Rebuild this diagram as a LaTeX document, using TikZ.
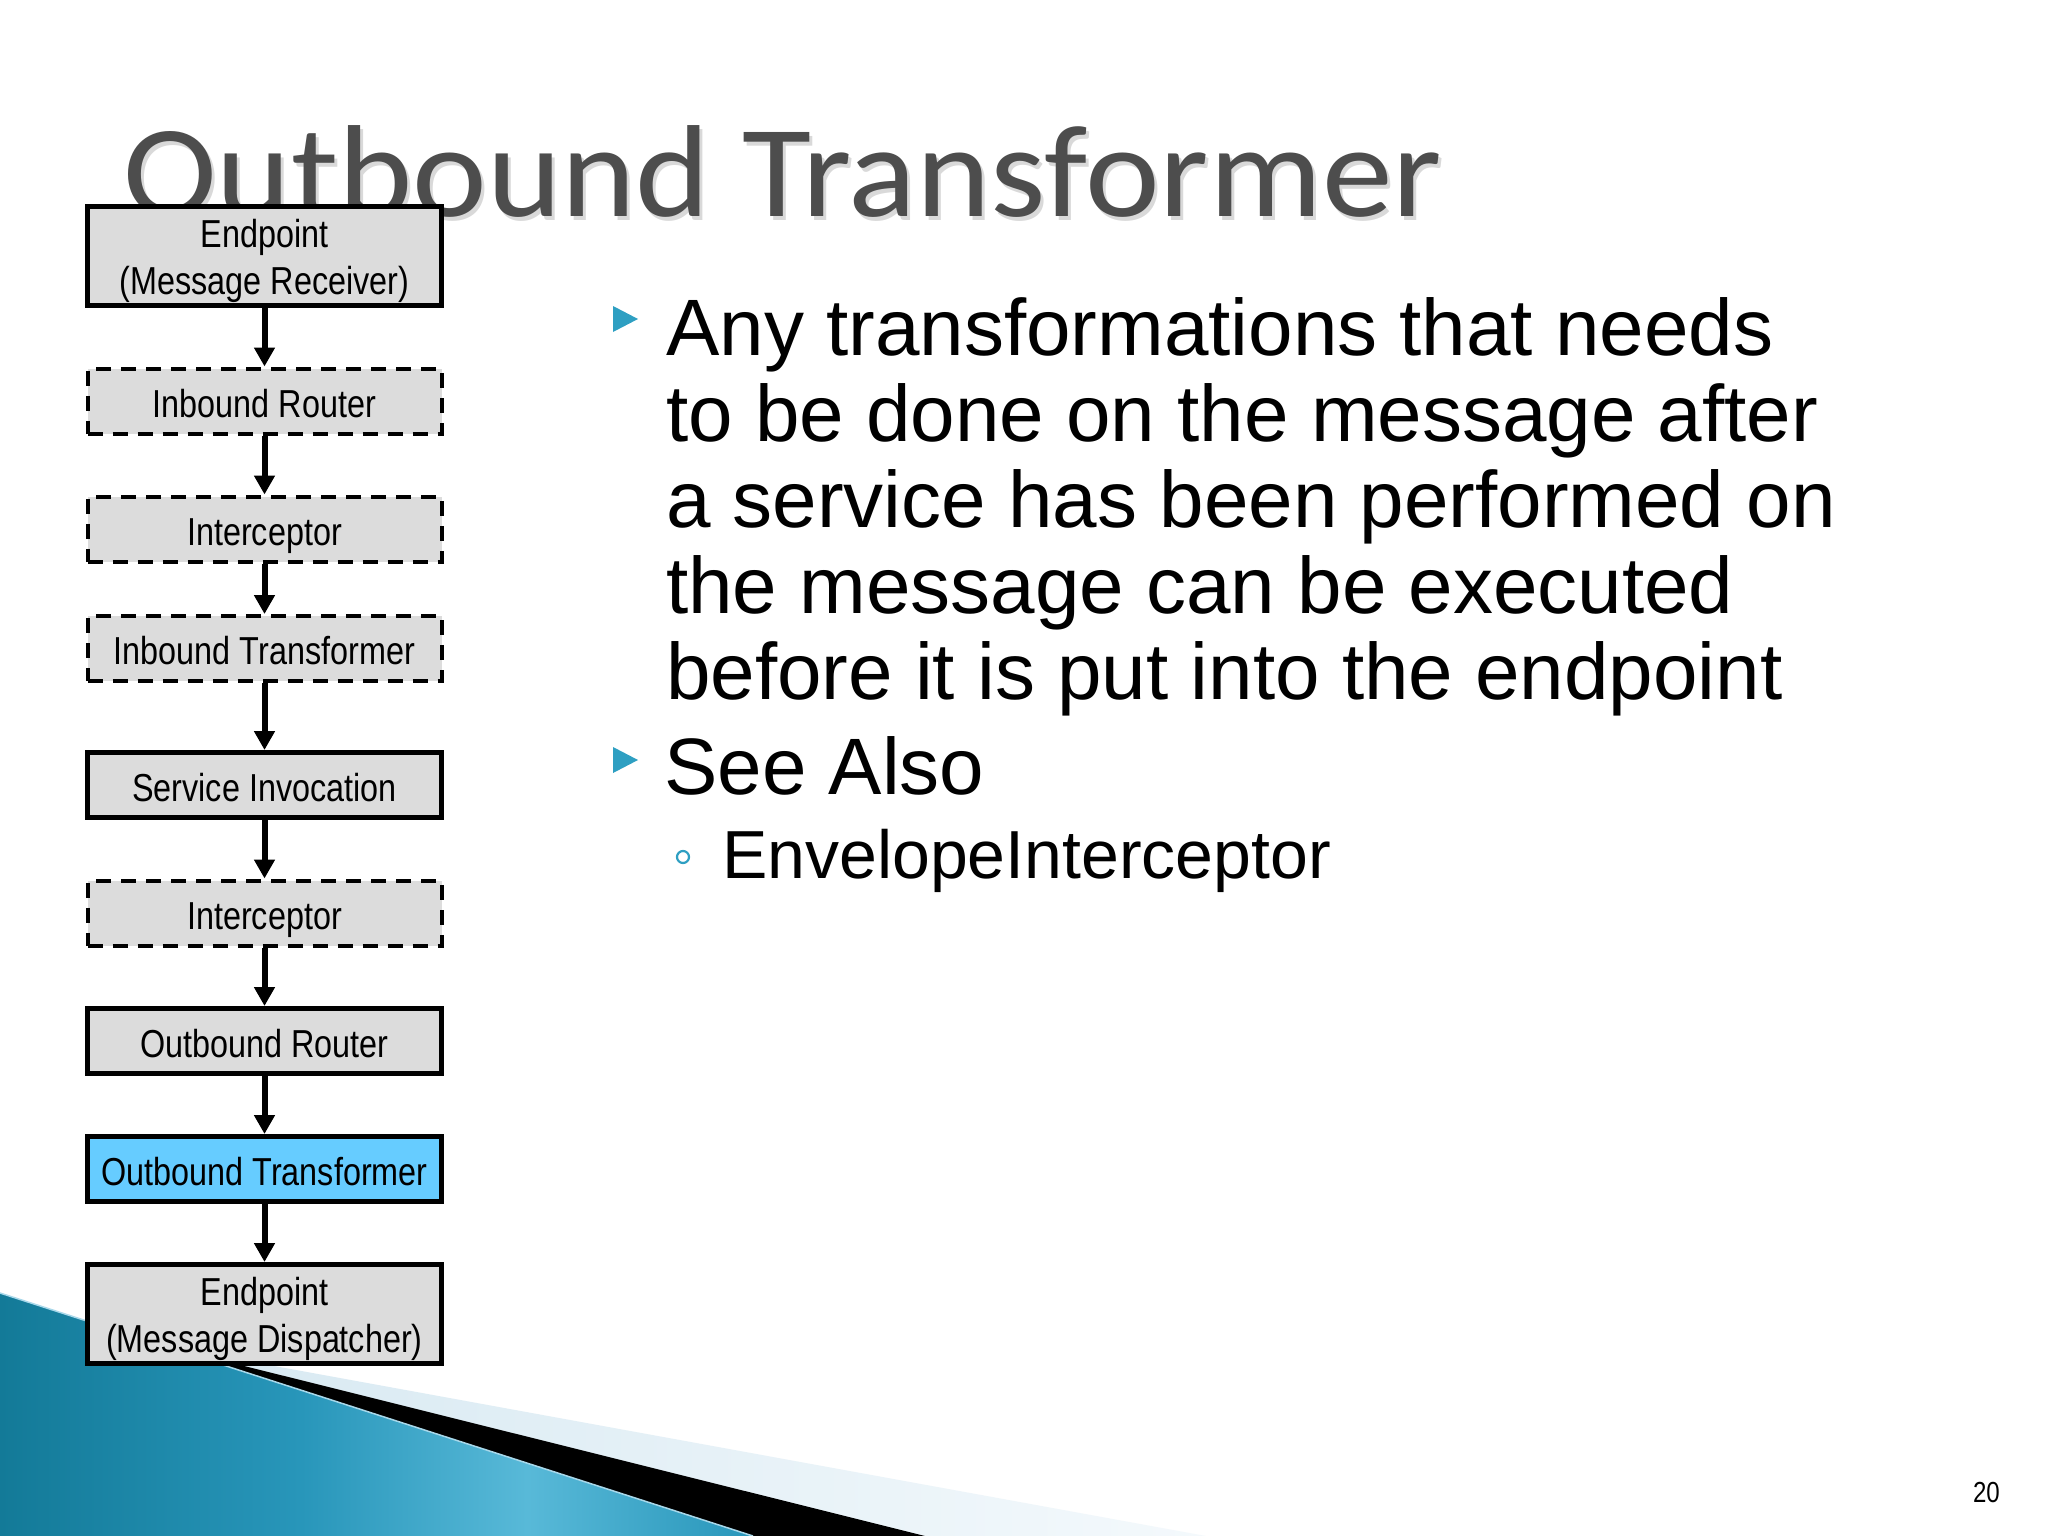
\documentclass[tikz,border=0pt]{standalone}
\usepackage{fontspec}
\setmainfont{Liberation Sans}
\newfontfamily\titlefont[FakeStretch=1.08]{Carlito}
\newfontfamily\boxfont[FakeStretch=0.83]{Liberation Sans}
\usetikzlibrary{arrows.meta}
\definecolor{boxgray}{HTML}{DCDCDC}
\definecolor{boxblue}{HTML}{66CCFF}
\definecolor{titlegray}{HTML}{4D4D4D}
\definecolor{bulletc}{HTML}{2E9FC2}
\definecolor{tealA}{HTML}{137A98}
\definecolor{tealB}{HTML}{2896BA}
\definecolor{tealC}{HTML}{58B9D8}
\definecolor{lbA}{HTML}{D2E6F0}
\definecolor{lbB}{HTML}{F4F9FC}
\definecolor{hlc}{HTML}{A8D8EA}
\pgfdeclarehorizontalshading{tealsh}{100bp}{color(0bp)=(tealA); color(25bp)=(tealA); color(45bp)=(tealB); color(60bp)=(tealC); color(75bp)=(tealB); color(100bp)=(tealB)}
\tikzset{
  boxbase/.style={rectangle, minimum width=354pt, inner sep=0pt, line width=5pt,
    font=\boxfont\fontsize{39}{47}\selectfont, align=center},
  solidbox/.style={boxbase, draw=black, fill=boxgray},
  dashbox/.style={boxbase, draw=black, fill=boxgray, line width=4pt, dash pattern=on 15pt off 10pt},
  hibox/.style={boxbase, draw=black, fill=boxblue},
  onebox/.style={minimum height=65pt, text height=32pt, text depth=0pt},
  twobox/.style={minimum height=99pt},
  flow/.style={line width=6pt, -{Triangle[length=19pt, width=20pt]}},
  bodyline/.style={anchor=base west, inner sep=0pt, font=\fontsize{80}{86}\selectfont},
  subline/.style={anchor=base west, inner sep=0pt, font=\fontsize{68}{72}\selectfont},
  titletext/.style={anchor=base west, inner sep=0pt, font=\titlefont\fontsize{131}{140}\selectfont, text=titlegray},
  titleshadow/.style={anchor=base west, inner sep=0pt, font=\titlefont\fontsize{131}{140}\selectfont, text=black, opacity=0.15},
  bullettri/.style={fill=bulletc},
}
\begin{document}
\begin{tikzpicture}[x=1pt,y=-1pt]
\useasboundingbox (0,0) rectangle (2048,1536);
\fill[white] (0,0) rectangle (2048,1536);
% bottom-left decoration
\shade[left color=lbA, right color=lbB] (0,1316) -- (1206,1536) -- (0,1536) -- cycle;
\fill[black] (0,1305) -- (925,1536) -- (0,1536) -- cycle;
\shade[shading=tealsh] (0,1293) -- (753,1536) -- (0,1536) -- cycle;
\draw[hlc, line width=1.5pt] (0,1293) -- (753,1536);
% title
\node[titleshadow] (titleshadow) at (126,220) {Outbound Transformer};
\node[titletext] (title) at (123,216) {Outbound Transformer};
% flow boxes
\node[solidbox, twobox] (b1) at (264.5,256) {\rule{0pt}{38.5pt}Endpoint\\(Message Receiver)};
\node[dashbox, onebox] (b2) at (264.5,401) {Inbound Router};
\node[dashbox, onebox] (b3) at (264.5,529) {Interceptor};
\node[dashbox, onebox] (b4) at (264.5,648.5) {Inbound Transformer};
\node[solidbox, onebox] (b5) at (264.5,785) {Service Invocation};
\node[dashbox, onebox] (b6) at (264.5,913) {Interceptor};
\node[solidbox, onebox] (b7) at (264.5,1041) {Outbound Router};
\node[hibox, onebox] (b8) at (264.5,1169) {Outbound Transformer};
\node[solidbox, twobox] (b9) at (264.5,1314) {\rule{0pt}{38.5pt}Endpoint\\(Message Dispatcher)};
\draw[flow] (b1.south) -- (b2.north);
\draw[flow] (b2.south) -- (b3.north);
\draw[flow] (b3.south) -- (b4.north);
\draw[flow] (b4.south) -- (b5.north);
\draw[flow] (b5.south) -- (b6.north);
\draw[flow] (b6.south) -- (b7.north);
\draw[flow] (b7.south) -- (b8.north);
\draw[flow] (b8.south) -- (b9.north);
% bullets
\fill[bullettri] (613,306) -- (638,319) -- (613,332) -- cycle;
\fill[bullettri] (613,747) -- (638,760) -- (613,773) -- cycle;
\node[circle, draw=bulletc, line width=2.2pt, minimum size=12pt, inner sep=0pt] (sub1) at (683,857) {};
\node[bodyline] (l1) at (666,355) {Any transformations that needs};
\node[bodyline] (l2) at (666,441) {to be done on the message after};
\node[bodyline] (l3) at (666,527) {a service has been performed on};
\node[bodyline] (l4) at (666,613) {the message can be executed};
\node[bodyline] (l5) at (666,699) {before it is put into the endpoint};
\node[bodyline] (l6) at (664,794) {See Also};
\node[subline] (l7) at (722,878) {EnvelopeInterceptor};
% page number
\node[anchor=base east, inner sep=0pt, font=\boxfont\fontsize{29}{32}\selectfont] (page) at (2000,1502) {20};
\end{tikzpicture}
\end{document}
